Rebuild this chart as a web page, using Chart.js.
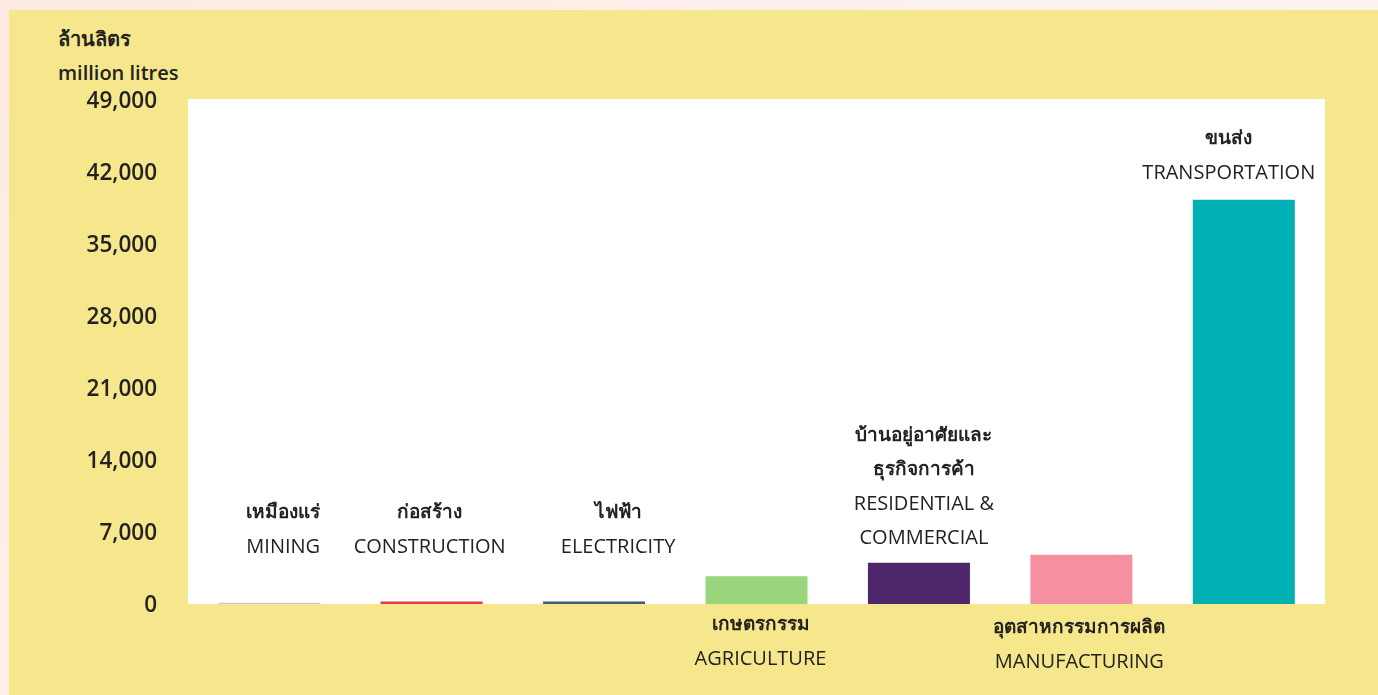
<!DOCTYPE html>
<html>
<head>
<meta charset="utf-8">
<script src="https://cdn.jsdelivr.net/npm/chart.js@4.4.1/dist/chart.umd.min.js"></script>
<style>
	html, body { margin: 0; padding: 0; }
	body {
		width: 1378px; height: 695px; overflow: hidden; position: relative;
		background: linear-gradient(135deg, #fde9e3 0%, #fdf3ee 60%, #fdf6f0 100%);
	}
	#panel {
		position: absolute; left: 9px; top: 10px; width: 1369px; height: 685px;
		background: #f7e78c;
	}
	#chart { position: absolute; left: 0; top: 0; }
	.unit {
		position: absolute; left: 49px; color: #222;
		font-family: "Open Sans", "Noto Sans", sans-serif; font-weight: 600; font-size: 20px;
	}
</style>
</head>
<body>
<div id="panel">
	<div class="unit" style="top: 13px;">ล้านลิตร</div>
	<div class="unit" style="top: 49px;">million litres</div>
	<canvas id="chart" width="1369" height="685"></canvas>
</div>
<script>
// Data
// ================================================================================
let sector_th = ["เหมืองแร่", "ก่อสร้าง", "ไฟฟ้า", "เกษตรกรรม",
	"บ้านอยู่อาศัยและ|ธุรกิจการค้า", "อุตสาหกรรมการผลิต", "ขนส่ง"];
let sector_en = ["MINING", "CONSTRUCTION", "ELECTRICITY", "AGRICULTURE",
	"RESIDENTIAL &|COMMERCIAL", "MANUFACTURING", "TRANSPORTATION"];
let usage_values = [120, 250, 250, 2700, 4000, 4800, 39300];
let bar_colors = ["#cccccc", "#e8384f", "#3d5a78", "#98d57c",
	"#4e266c", "#f590a0", "#00b0b5"];
let y_ticks = [0, 7000, 14000, 21000, 28000, 35000, 42000, 49000];

// label placement: dx from bar centre, first line y from chart bottom (px)
let label_place = [
	{dx: 14, dy: -91}, {dx: -2, dy: -91}, {dx: 24, dy: -91},
	{dx: 4, dy: 21}, {dx: 5, dy: -168}, {dx: -2, dy: 24}, {dx: -15, dy: -465}
];

let font_family = '"Open Sans", "Noto Sans", sans-serif';

let white_area = {
	id: 'white_area',
	beforeDraw(chart) {
		let a = chart.chartArea, ctx = chart.ctx;
		ctx.save();
		ctx.fillStyle = '#ffffff';
		ctx.fillRect(a.left, a.top - 1, a.right - a.left, a.bottom - a.top + 1);
		ctx.restore();
	}
};

let sector_labels = {
	id: 'sector_labels',
	afterDatasetsDraw(chart) {
		let ctx = chart.ctx, bars = chart.getDatasetMeta(0).data;
		let bottom = chart.chartArea.bottom;
		ctx.save();
		ctx.fillStyle = '#222222';
		ctx.textAlign = 'center';
		ctx.textBaseline = 'middle';
		bars.forEach((bar, i) => {
			let x = bar.x + label_place[i].dx;
			let y = bottom + label_place[i].dy;
			let lines = [];
			sector_th[i].split('|').forEach(t => lines.push([t, 'bold 19px ' + font_family]));
			sector_en[i].split('|').forEach(t => lines.push([t, '20px ' + font_family]));
			lines.forEach((ln, k) => {
				ctx.font = ln[1];
				ctx.fillText(ln[0], x, y + k * 34);
			});
		});
		ctx.restore();
	}
};

let usage_chart = new Chart(document.getElementById('chart'), {
	type: 'bar',
	data: {
		labels: sector_en,
		datasets: [{
			data: usage_values,
			backgroundColor: bar_colors,
			categoryPercentage: 1,
			barPercentage: 0.628
		}]
	},
	options: {
		responsive: false,
		animation: false,
		layout: { padding: { top: 90, right: 53, bottom: 91, left: 0 } },
		plugins: { legend: { display: false }, tooltip: { enabled: false } },
		scales: {
			x: { display: false },
			y: {
				min: 0,
				max: y_ticks[y_ticks.length - 1],
				afterBuildTicks: (scale) => { scale.ticks = y_ticks.map(v => ({value: v})); },
				afterFit: (scale) => { scale.width = 179; },
				grid: { display: false, drawTicks: false },
				border: { display: false },
				ticks: {
					color: '#222222',
					padding: 31,
					labelOffset: 2,
					font: { family: font_family, size: 22.5, weight: '600' },
					callback: (v) => v.toLocaleString('en-US')
				}
			}
		}
	},
	plugins: [white_area, sector_labels]
});
</script>
</body>
</html>
